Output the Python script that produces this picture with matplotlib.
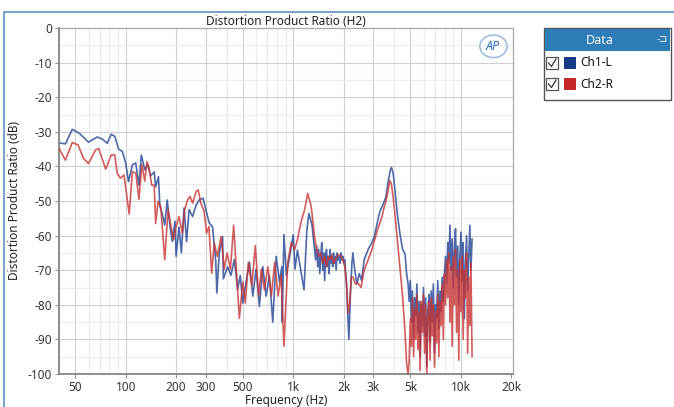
import matplotlib
matplotlib.use("Agg")
import matplotlib.pyplot as plt
from matplotlib.patches import Rectangle, Ellipse
from matplotlib.lines import Line2D

plt.rcParams['font.family'] = ['Noto Sans', 'DejaVu Sans']

# Ch1-L (blue): frequency (Hz) and H2 ratio (dB)
ch1_freq = [40, 43.7, 48, 52.5, 60, 67.7, 72.5, 77.7, 82, 86, 90.8, 95.5, 100, 104, 109.7,
            114.8, 120, 124, 130, 135, 141, 148, 151, 157, 160, 166, 171, 177, 184, 190,
            197, 200, 208, 215, 223, 231, 239, 251, 263, 275, 290, 301, 315, 330, 345,
            350, 362, 379, 383, 406, 425, 445, 466, 483, 500, 523, 548, 574, 600, 628,
            658, 689, 721, 755, 791, 828, 855, 860, 880, 910, 952, 1000, 1025, 1060, 1110,
            1160, 1205, 1240, 1295, 1340, 1360, 1380, 1400, 1420, 1440, 1460, 1480, 1500,
            1520, 1540, 1560, 1580, 1600, 1620, 1640, 1660, 1680, 1700, 1720, 1740, 1760,
            1780, 1805, 1830, 1855, 1880, 1905, 1930, 1955, 1980, 2005, 2030, 2080, 2120,
            2150, 2190, 2240, 2270, 2330, 2400, 2480, 2560, 2650, 2800, 2950, 3060, 3150,
            3290, 3400, 3500, 3580, 3700, 3800, 3860, 3950, 4050, 4200, 4350, 4500, 4650,
            4750, 4850, 4920, 5000, 5080, 5150, 5230, 5310, 5390, 5470, 5550, 5640, 5720,
            5810, 5900, 5990, 6080, 6170, 6270, 6360, 6460, 6560, 6660, 6760, 6860, 6970,
            7070, 7180, 7290, 7400, 7520, 7630, 7750, 7870, 7990, 8110, 8240, 8360, 8490,
            8620, 8750, 8890, 9020, 9160, 9300, 9440, 9590, 9730, 9880, 10030, 10190,
            10340, 10500, 10660, 10830, 10990, 11160, 11330, 11500, 11680]
ch1_db = [-33.2, -33.5, -29.3, -30.3, -33, -31.5, -32.1, -33.3, -30.7, -31.3, -35, -35.7, -39, -44.4, -39.5,
          -39, -45.4, -36.7, -41, -39.5, -42.7, -41.6, -45.9, -43, -51.6, -54, -57, -49.7, -57.5, -61.7,
          -55.8, -66, -57.5, -65, -52, -61.7, -52.5, -54.5, -51.2, -49.7, -49.2, -52.5, -56.3, -57.5, -67.5,
          -76.6, -65, -60.3, -72.5, -69, -71.5, -66.9, -75.6, -71.5, -79.5, -73.4, -67.7, -77.5, -69.7, -80.5,
          -69, -77.5, -71.5, -85, -66, -73.4, -69, -85, -59.7, -71.5, -66, -59.8, -69.7, -64.2, -70,
          -75.7, -58.7, -53.6, -57, -64, -67, -63, -69, -64, -71, -66, -62, -70,
          -65, -73, -66, -64, -69, -66, -71, -64, -68, -66, -69, -65, -68,
          -66, -70, -65, -67, -66, -68, -65, -67, -66, -68, -67, -74, -84,
          -90, -78, -68, -65, -70, -74, -71, -73, -67, -64, -62, -60, -57,
          -53, -51.5, -50, -48.7, -44, -41, -40.3, -42, -47, -54.5, -60, -64, -65.3,
          -71, -74, -79, -73, -85, -76, -90, -78, -83, -74, -88, -79, -95,
          -80, -86, -75, -89, -78, -98, -82, -77, -91, -76, -85, -74, -94,
          -80, -84, -73, -87, -76, -82, -72, -79, -71, -66, -74, -62, -68,
          -57, -70, -61, -75, -64, -58, -72, -63, -80, -66, -59, -73,
          -62, -84, -68, -60, -76, -66, -57, -70, -61]

# Ch2-R (red)
ch2_freq = [40, 43.7, 48, 52, 56, 60, 66, 69, 76, 82, 86, 89, 93, 97.7, 105,
            109.7, 115, 120, 125, 130, 134, 138, 143, 148, 151, 156, 162, 171, 179, 185,
            193, 198, 208, 218, 225, 234, 242, 251, 263, 271, 281, 294, 304, 314, 326,
            338, 352, 371, 388, 403, 422, 441, 455, 477, 500, 518, 540, 566, 594, 622,
            645, 673, 706, 740, 775, 812, 846, 880, 928, 974, 1020, 1060, 1110, 1170, 1220,
            1280, 1340, 1380, 1420, 1460, 1500, 1540, 1580, 1620, 1660, 1700, 1740, 1780,
            1830, 1880, 1930, 1980, 2030, 2080, 2130, 2170, 2220, 2270, 2350, 2430, 2540,
            2650, 2800, 2950, 3060, 3200, 3380, 3480, 3580, 3680, 3770, 3850, 3950, 4050,
            4200, 4350, 4500, 4650, 4750,
            4850, 4920, 5000, 5080, 5150, 5230, 5310, 5390, 5470, 5550, 5640, 5720, 5810,
            5900, 5990, 6080, 6170, 6270, 6360, 6460, 6560, 6660, 6760, 6860, 6970, 7070,
            7180, 7290, 7400, 7520, 7630, 7750, 7870, 7990, 8110, 8240, 8360, 8490, 8620,
            8750, 8890, 9020, 9160, 9300, 9440, 9590, 9730, 9880, 10030, 10190, 10340,
            10500, 10660, 10830, 10990, 11160, 11330, 11500, 11680]
ch2_db = [-34.8, -38.2, -33.1, -33.8, -37.7, -39.2, -35.3, -34.8, -40.8, -36.7, -36.7, -42, -43.4, -42.5, -53.8,
          -41.5, -42, -49.5, -39.5, -44.3, -38.6, -40.6, -45.4, -45.4, -56.5, -50.1, -51.6, -67, -52.5, -56.3,
          -61.2, -58.3, -54.5, -59.3, -52.5, -49.7, -48.7, -50.6, -47.3, -46.8, -50.6, -53, -59.3, -57.4, -70.9,
          -62.2, -66, -60.3, -69.7, -65, -69.7, -57, -67.7, -83.9, -73.4, -79.5, -67.7, -74.4, -62.9, -77.5,
          -69.7, -75.6, -69, -77.5, -67.7, -77.5, -71.5, -92, -67.7, -62, -64, -61.2, -56.3, -52.5, -47.8,
          -51.5, -60.3, -64, -66, -65, -68, -66, -69, -66, -67, -65.5, -68, -67,
          -66, -65.5, -66, -67, -69, -74, -82.4, -80, -72, -72, -74, -73.7, -75,
          -70, -67, -64, -61.3, -58, -54.7, -52, -50, -47, -44.1, -45, -49, -54,
          -62, -70, -78, -88, -97,
          -100, -96, -84, -92, -78, -95, -81, -90, -77, -93, -82, -99, -79,
          -88, -77, -94, -80, -100, -84, -79, -96, -78, -89, -80, -98, -82,
          -91, -77, -95, -79, -86, -74, -90, -71, -80, -67, -78, -65, -85,
          -69, -92, -66, -80, -64, -88, -70, -96, -67, -82, -66, -90,
          -70, -78, -65, -94, -72, -86, -68, -95]

xticks = [50, 100, 200, 300, 500, 1000, 2000, 3000, 5000, 10000, 20000]
xtick_labels = ['50', '100', '200', '300', '500', '1k', '2k', '3k', '5k', '10k', '20k']
xminor = [60, 70, 80, 90, 400, 600, 700, 800, 900, 4000, 6000, 7000, 8000, 9000]
yticks = list(range(0, -101, -10))

W, H = 674, 407
fig = plt.figure(figsize=(W / 100, H / 100), dpi=100)


def fx(px):
    return px / W


def fy(py):
    return 1 - py / H


ax = fig.add_axes([fx(59), fy(374), fx(513) - fx(59), fy(28) - fy(374)])
ax.set_xscale('log')
ax.set_xlim(40, 20500)
ax.set_ylim(-100, 0)

# grid
for f in xminor:
    ax.axvline(f, color='#ececec', lw=0.8, zorder=0)
for f in xticks[:-1]:
    ax.axvline(f, color='#cfcfcf', lw=0.8, zorder=0)
for v in range(-95, 0, 10):
    ax.axhline(v, color='#ececec', lw=0.8, zorder=0)
for v in range(-90, 0, 10):
    ax.axhline(v, color='#cfcfcf', lw=0.8, zorder=0)

ax.plot(ch1_freq, ch1_db, color='#2f4f9a', lw=1.2, alpha=0.85, zorder=2)
ax.plot(ch2_freq, ch2_db, color='#c83434', lw=1.2, alpha=0.8, zorder=3)

ax.set_xticks(xticks)
ax.set_xticklabels(xtick_labels)
ax.xaxis.set_minor_locator(matplotlib.ticker.NullLocator())
ax.set_yticks(yticks)
ax.set_yticklabels([str(v) for v in yticks])
ax.tick_params(axis='both', labelsize=8.5, colors='#333333', length=3, width=0.8)
ax.tick_params(axis='both', color='#909090')
ax.tick_params(axis='x', pad=2)
ax.tick_params(axis='y', pad=2)

for side in ['left', 'bottom']:
    ax.spines[side].set_color('#8c8c8c')
    ax.spines[side].set_linewidth(1.4)
for side in ['top', 'right']:
    ax.spines[side].set_color('#a8a8a8')
    ax.spines[side].set_linewidth(0.9)

ax.set_title('Distortion Product Ratio (H2)', fontsize=8.5, color='#222222', pad=2)
ax.set_xlabel('Frequency (Hz)', fontsize=8.5, color='#222222', labelpad=0)
ax.set_ylabel('Distortion Product Ratio (dB)', fontsize=8.5, color='#222222', labelpad=5)

# AP logo
ax.text(0.955, 0.947, 'AP', transform=ax.transAxes, ha='center', va='center',
        fontsize=9, fontweight='bold', fontstyle='italic', color='#2a6ebb', zorder=5)
ax.add_patch(Ellipse((0.957, 0.947), 0.06, 0.065, transform=ax.transAxes,
                     fill=False, ec='#8fb3de', lw=1.0, zorder=5))

# outer frame lines
fig.add_artist(Line2D([fx(4), 1], [fy(12), fy(12)], color='#7fa3cf', lw=1.5))
fig.add_artist(Line2D([fx(4), fx(4)], [0, fy(12)], color='#7fa3cf', lw=1.5))

# legend panel
fig.add_artist(Rectangle((fx(544), fy(100)), fx(671) - fx(544), fy(28) - fy(100),
                         transform=fig.transFigure, fc='white', ec='#555555', lw=1.0))
fig.add_artist(Rectangle((fx(545), fy(51)), fx(670) - fx(545), fy(29) - fy(51),
                         transform=fig.transFigure, fc='#2e7db9', ec='none'))
fig.text(fx(600), fy(40), 'Data', ha='center', va='center', fontsize=9,
         fontweight='bold', color='white')
fig.text(fx(662), fy(39), '-⊐', ha='center', va='center', fontsize=7, color='white')

legend_names = ['Ch1-L', 'Ch2-R']
legend_colors = ['#163a85', '#c42525']
for i, (name, col) in enumerate(zip(legend_names, legend_colors)):
    yc = 63 + i * 21
    fig.add_artist(Rectangle((fx(546), fy(yc + 6)), fx(12), fy(0) - fy(12),
                             transform=fig.transFigure, fc='white', ec='#555555', lw=0.9))
    fig.add_artist(Line2D([fx(548.5), fx(551.5), fx(556)], [fy(yc), fy(yc + 3.5), fy(yc - 4)],
                          color='#333333', lw=0.9))
    fig.add_artist(Rectangle((fx(564), fy(yc + 6)), fx(12), fy(0) - fy(12),
                             transform=fig.transFigure, fc=col, ec='none'))
    fig.text(fx(580), fy(yc), name, ha='left', va='center', fontsize=8.5, color='#111111')

fig.savefig('out.png', dpi=100)
